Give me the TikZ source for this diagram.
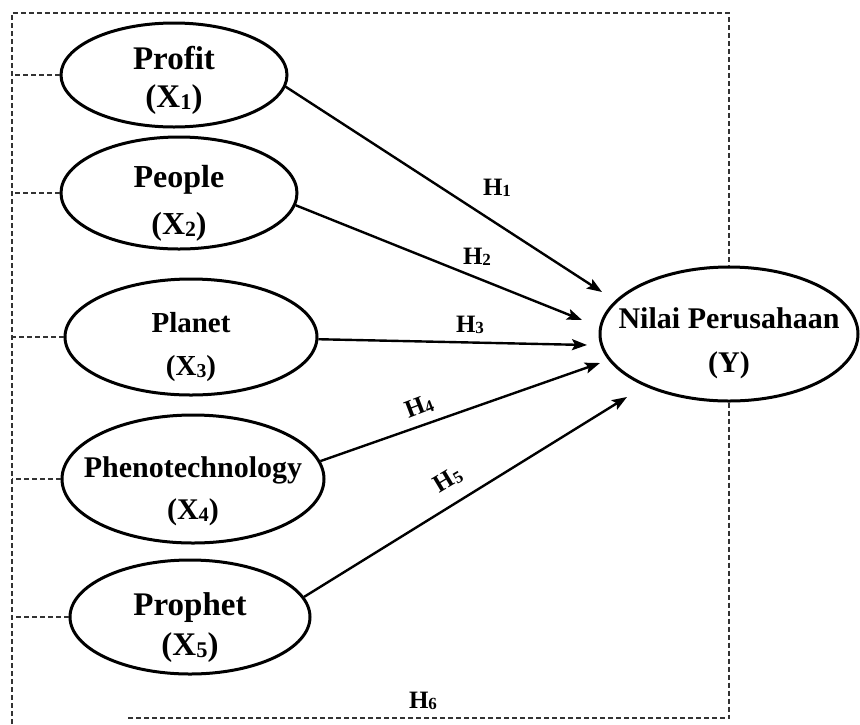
\documentclass[tikz,border=0pt]{standalone}
\usepackage{fontspec}
\usepackage{graphicx}
\setmainfont{Liberation Serif}
\usetikzlibrary{shapes.geometric,arrows.meta}
\newcommand\mysub[1]{\raisebox{-0.06em}{\scalebox{0.68}{#1}}}
\begin{document}
\begin{tikzpicture}[x=1pt,y=-1pt,
  latent/.style={draw=black,line width=3pt,ellipse,inner sep=0pt},
  ltext/.style={align=center,inner sep=0pt,font=\bfseries\fontsize{31}{40}\selectfont},
  frame/.style={draw=black!80,line width=1.4pt,dash pattern=on 5pt off 3pt},
  path/.style={draw=black,line width=2.4pt,-{Stealth[length=15pt,width=11pt,inset=3pt]}},
  hlab/.style={font=\bfseries\fontsize{25}{26}\selectfont,inner sep=0pt}]
\useasboundingbox (0,0) rectangle (860,724);
% latent variables
\node[latent,minimum width=226pt,minimum height=104pt] (profit) at (174,75) {};
\node[latent,minimum width=236pt,minimum height=112pt] (people) at (179,193) {};
\node[latent,minimum width=252pt,minimum height=116pt] (planet) at (191,337) {};
\node[latent,minimum width=262pt,minimum height=128pt] (pheno) at (193,479) {};
\node[latent,minimum width=240pt,minimum height=114pt] (prophet) at (190,617) {};
\node[latent,minimum width=258pt,minimum height=134pt] (Y) at (729,334) {};
% texts
\node[ltext,font=\bfseries\fontsize{33}{38}\selectfont] (profitT) at (174,80)
  {Profit\\(X\mysub{1})};
\node[ltext,font=\bfseries\fontsize{32}{47}\selectfont] (peopleT) at (179,203)
  {People\\(X\mysub{2})};
\node[ltext,font=\bfseries\fontsize{29}{43}\selectfont] (planetT) at (191,347)
  {Planet\\(X\mysub{3})};
\node[ltext,font=\bfseries\fontsize{30}{42}\selectfont] (phenoT) at (193,491)
  {Phenotechnology\\(X\mysub{4})};
\node[ltext,font=\bfseries\fontsize{33}{40}\selectfont] (prophetT) at (190,628)
  {Prophet\\(X\mysub{5})};
\node[ltext,font=\bfseries\fontsize{30}{44}\selectfont] (YT) at (729,343)
  {Nilai Perusahaan\\(Y)};
% frame coordinates
\coordinate (tl) at (12,13);
\coordinate (tr) at (729,13);
\coordinate (lb) at (12,724);
\coordinate (br) at (729,718);
\coordinate (bl) at (128,718);
\draw[frame] (lb) -- (tl) -- (tr) -- (Y.north);
\draw[frame] (Y.south) -- (br) -- (bl);
\foreach \n in {profit,people,planet,pheno,prophet}
  \draw[frame] (\n.west) -- (\n.west -| tl);
% arrow ends
\coordinate (e1) at (602,292);
\coordinate (e2) at (582,320);
\coordinate (e3) at (587,345);
\coordinate (e4) at (600,363);
\coordinate (e5) at (627,397);
\draw[path] (profit.-6) -- (e1);
\draw[path] (people.-6) -- (e2);
\draw[path] (planet.-1) -- (e3);
\draw[path] (pheno.8) -- (e4);
\draw[path] (prophet.10) -- (e5);
% labels
\node[hlab] (h1) at (497,188) {H\mysub{1}};
\node[hlab] (h2) at (477,257) {H\mysub{2}};
\node[hlab] (h3) at (470,325) {H\mysub{3}};
\node[hlab,rotate=21] (h4) at (419,407) {H\mysub{4}};
\node[hlab,rotate=31] (h5) at (448,480) {H\mysub{5}};
\node[hlab] (h6) at (423,701) {H\mysub{6}};
\end{tikzpicture}
\end{document}
